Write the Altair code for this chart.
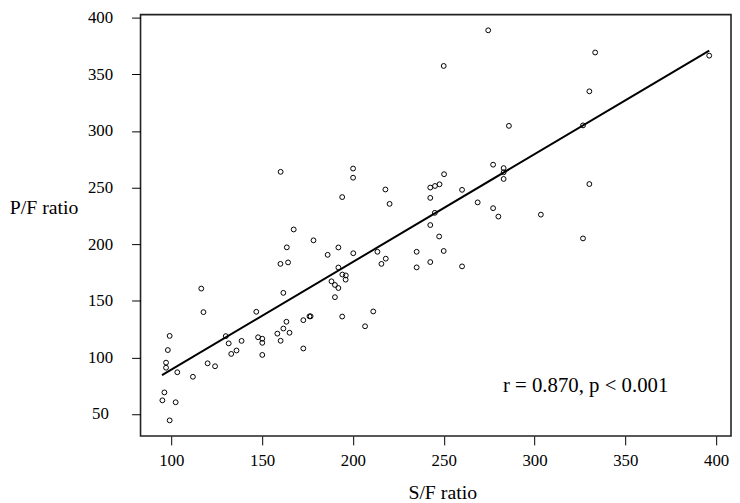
import altair as alt
import pandas as pd

# S/F ratio (x) and P/F ratio (y) of each patient
sf_ratio = [160.2, 200.1, 200.1, 217.9, 194.1, 220.2, 242.6, 242.6, 245.2, 245.1,
            242.6, 167.4, 163.6, 178.3, 192.0, 186.1, 200.2, 213.5, 235.1, 215.7,
            218.1, 235.1, 242.6, 160.1, 164.3, 192.0, 194.2, 196.1, 196.0, 188.2,
            190.1, 192.0, 190.1, 161.7, 116.5, 117.7, 146.8, 211.2, 194.1, 176.1,
            176.7, 172.7, 163.4, 161.7, 158.4, 165.1, 160.2, 206.7, 172.7, 130.0,
            131.6, 138.7, 135.9, 133.0, 147.8, 150.1, 150.1, 150.1, 99.1, 98.1,
            97.1, 97.1, 103.3, 111.9, 120.0, 124.1, 96.2, 95.1, 102.4, 99.1,
            274.5, 250.0, 333.4, 396.2, 330.2, 285.9, 326.7, 277.2, 283.0, 283.0,
            283.0, 250.2, 247.7, 260.1, 268.7, 277.2, 280.1, 303.5, 330.2, 247.5,
            326.7, 250.0, 260.1]
pf_ratio = [263.9, 266.8, 258.7, 248.3, 241.6, 235.6, 250.0, 240.9, 251.4, 227.7,
            216.9, 213.0, 197.2, 203.4, 197.1, 190.6, 192.0, 193.3, 193.3, 182.6,
            187.2, 179.5, 184.2, 182.6, 183.9, 179.4, 173.2, 172.4, 168.7, 167.2,
            164.0, 161.3, 153.2, 157.0, 160.8, 140.0, 140.3, 140.6, 136.1, 136.3,
            136.3, 132.9, 131.5, 125.5, 121.0, 121.8, 114.7, 127.5, 107.9, 118.8,
            112.4, 114.6, 106.1, 103.1, 117.8, 116.5, 112.9, 102.2, 119.0, 106.5,
            95.4, 90.9, 86.9, 82.9, 94.8, 92.2, 69.1, 62.1, 60.4, 44.4,
            388.9, 357.4, 369.3, 366.5, 335.0, 304.5, 304.9, 270.2, 267.2, 263.5,
            257.6, 261.8, 252.9, 248.0, 236.9, 231.8, 224.4, 226.1, 253.1, 206.8,
            205.1, 194.0, 180.4]

# fitted regression line end points
fit_sf = [94.9, 396.2]
fit_pf = [84.3, 371.0]

x_ticks = [100, 150, 200, 250, 300, 350, 400]
y_ticks = [50, 100, 150, 200, 250, 300, 350, 400]
x_title = "S/F ratio"
y_title = "P/F ratio"
annotation = ["r = 0.870, p < 0.001"]

FONT = "Liberation Serif"

pts = pd.DataFrame({"sf": sf_ratio, "pf": pf_ratio})
fit = pd.DataFrame({"sf": fit_sf, "pf": fit_pf})
note = pd.DataFrame({"label": annotation})

x_scale = alt.Scale(domain=[83.06, 408.2], nice=False, zero=False)
y_scale = alt.Scale(domain=[30.6, 402.7], nice=False, zero=False)

x_axis = alt.Axis(values=x_ticks, title=x_title, tickSize=9, labelPadding=8,
                  labelBaseline="top", labelFontSize=17, titleFontSize=20,
                  titleX=305, titleY=63, titleBaseline="alphabetic",
                  titleAlign="center", titleAnchor="middle")
y_axis = alt.Axis(values=y_ticks, title=y_title, tickSize=9, labelPadding=32,
                  labelAlign="center", labelFontSize=17, titleFontSize=20,
                  titleAngle=0, titleX=-98, titleY=195, titleAlign="center",
                  titleBaseline="middle")

points = alt.Chart(pts).mark_point(
    shape="circle", filled=False, color="black", size=24, strokeWidth=1, opacity=1
).encode(
    x=alt.X("sf:Q", scale=x_scale, axis=x_axis),
    y=alt.Y("pf:Q", scale=y_scale, axis=y_axis),
)

line = alt.Chart(fit).mark_line(color="black", strokeWidth=2).encode(
    x=alt.X("sf:Q", scale=x_scale),
    y=alt.Y("pf:Q", scale=y_scale),
)

text = alt.Chart(note).mark_text(
    font=FONT, fontSize=21, align="center", baseline="alphabetic", color="black"
).encode(
    x=alt.value(450), y=alt.value(382), text="label:N"
)

chart = alt.layer(points, line, text).properties(
    width=597, height=426,
    padding={"left": 134, "top": 4, "right": 1, "bottom": 65},
    autosize=alt.AutoSizeParams(type="none"),
).configure_view(
    stroke="#222222", strokeWidth=1.6
).configure_axis(
    grid=False, domain=False, tickColor="black", tickWidth=1,
    labelColor="black", titleColor="black", labelFont=FONT, titleFont=FONT,
    titleFontWeight="normal", labelFlush=False, labelOverlap=False,
)

chart.save("out.html", embed_options={"renderer": "svg", "actions": False})
